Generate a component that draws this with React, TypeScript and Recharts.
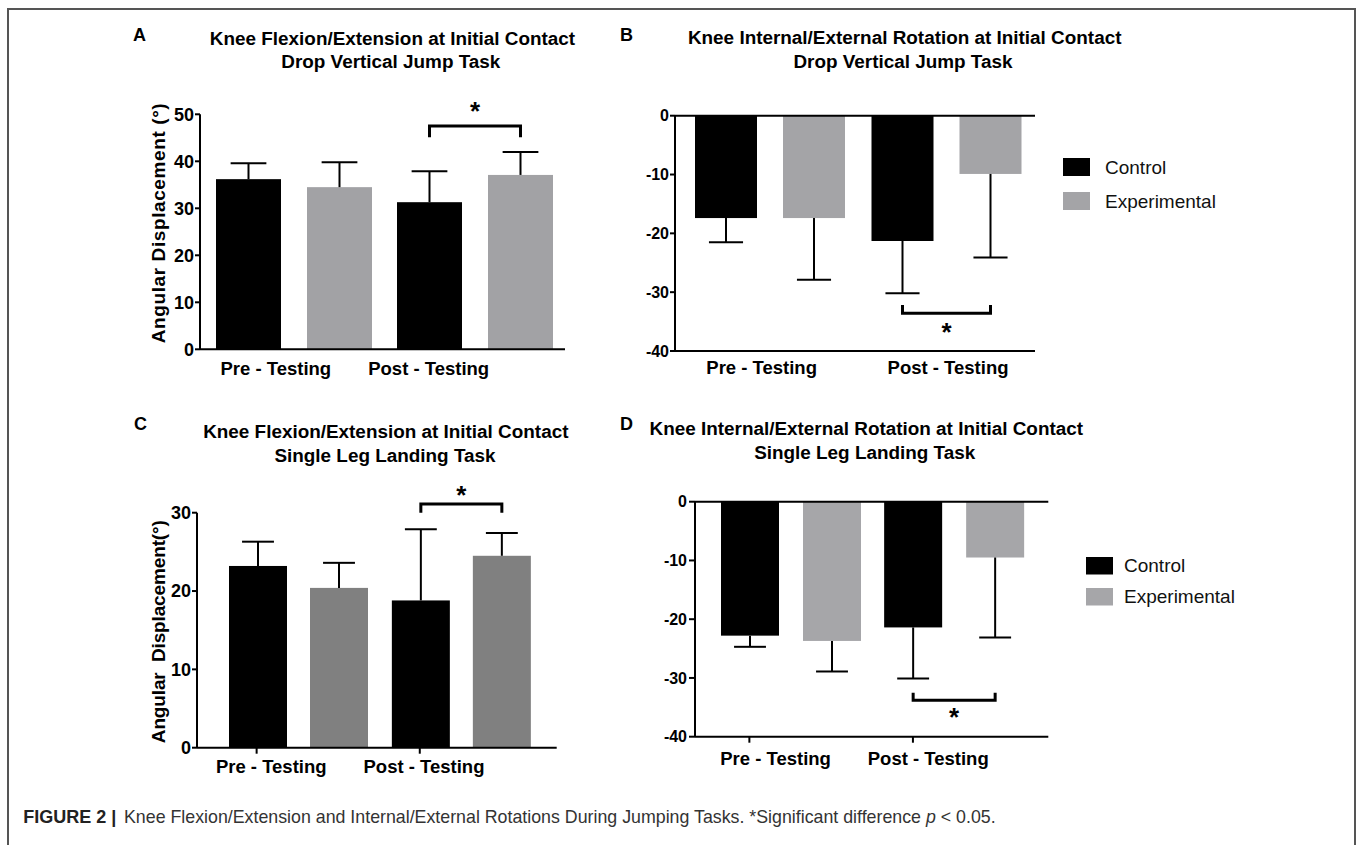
import React from 'react';
import { BarChart, Bar, XAxis, YAxis, ReferenceLine, Legend } from 'recharts';

const FONT = '"Liberation Sans", Arial, Helvetica, sans-serif';

const groups = ['Pre - Testing', 'Post - Testing'];

// A - flexion/extension, drop vertical jump
const flexDvjControl = [36.2, 31.3];
const flexDvjControlSd = [3.4, 6.6];
const flexDvjExp = [34.5, 37.1];
const flexDvjExpSd = [5.3, 4.9];

// B - internal/external rotation, drop vertical jump
const rotDvjControl = [-17.4, -21.3];
const rotDvjControlSd = [4.1, 8.9];
const rotDvjExp = [-17.4, -9.9];
const rotDvjExpSd = [10.5, 14.2];

// C - flexion/extension, single leg landing
const flexSllControl = [23.2, 18.8];
const flexSllControlSd = [3.1, 9.1];
const flexSllExp = [20.4, 24.5];
const flexSllExpSd = [3.2, 2.9];

// D - internal/external rotation, single leg landing
const rotSllControl = [-22.8, -21.4];
const rotSllControlSd = [1.9, 8.7];
const rotSllExp = [-23.7, -9.5];
const rotSllExpSd = [5.2, 13.6];

const flexDvjTicks = [0, 10, 20, 30, 40, 50];
const flexSllTicks = [0, 10, 20, 30];
const rotTicks = [0, -10, -20, -30, -40];

// significance bracket: [bar level, leg end, star] in axis units
const sigFlexDvj = [47.5, 45.1, 52.0];
const sigRotDvj = [-33.6, -32.2, -35.7];
const sigFlexSll = [31.1, 30.0, 33.0];
const sigRotSll = [-33.8, -32.5, -35.6];

const rows = (c: number[], cs: number[], e: number[], es: number[]) =>
  groups.map((g, i) => ({
    group: g,
    control: c[i],
    controlSd: cs[i],
    experimental: e[i],
    experimentalSd: es[i],
  }));

const dataA = rows(flexDvjControl, flexDvjControlSd, flexDvjExp, flexDvjExpSd);
const dataB = rows(rotDvjControl, rotDvjControlSd, rotDvjExp, rotDvjExpSd);
const dataC = rows(flexSllControl, flexSllControlSd, flexSllExp, flexSllExpSd);
const dataD = rows(rotSllControl, rotSllControlSd, rotSllExp, rotSllExpSd);

// bar + one-sided error whisker (+ significance bracket on the post control bar)
function barShape(key: string, sig: number[] | null, gap: number) {
  return (p: any) => {
    const { x, y, width, height, fill, payload } = p;
    const v = payload[key];
    const sd = payload[key + 'Sd'];
    const top = Math.min(y, y + height);
    const bot = Math.max(y, y + height);
    const ppu = (bot - top) / Math.abs(v);
    const zeroY = v >= 0 ? bot : top;
    const px = (u: number) => zeroY - u * ppu;
    const sign = v >= 0 ? 1 : -1;
    const cx = x + width / 2;
    const endY = px(v);
    const errY = px(v + sign * sd);
    const cap = width * 0.55;
    let bracket = null;
    if (sig && payload.group === groups[1]) {
      const x2 = cx + width + gap;
      const yb = px(sig[0]);
      const yl = px(sig[1]);
      bracket = (
        <g>
          <path d={`M${cx} ${yl} L${cx} ${yb} L${x2} ${yb} L${x2} ${yl}`} fill="none" stroke="#000" strokeWidth={3} />
          <text x={(cx + x2) / 2} y={px(sig[2])} dy="0.58em" textAnchor="middle" fontSize={26} fontWeight="bold" fontFamily={FONT} fill="#000">*</text>
        </g>
      );
    }
    return (
      <g>
        <rect x={x} y={top} width={width} height={bot - top} fill={fill} />
        <line x1={cx} x2={cx} y1={endY} y2={errY} stroke="#000" strokeWidth={2} />
        <line x1={cx - cap / 2} x2={cx + cap / 2} y1={errY} y2={errY} stroke="#000" strokeWidth={2} />
        {bracket}
      </g>
    );
  };
}

function groupTick(labelDx: number[], dy: number, markDx: number[] | null) {
  return (p: any) => {
    const { x, y, payload, index } = p;
    return (
      <g>
        {markDx && (
          <line x1={x + markDx[index]} x2={x + markDx[index]} y1={y} y2={y + 6} stroke="#000" strokeWidth={2} />
        )}
        <text x={x + labelDx[index]} y={y + dy} textAnchor="middle" fontSize={18.5} fontWeight="bold" fontFamily={FONT} fill="#000">
          {payload.value}
        </text>
      </g>
    );
  };
}

function legendContent(sw: number, sh: number, gap: number, pitch: number) {
  return (props: any) => (
    <svg width={170} height={pitch * 2 + 4} style={{ display: 'block', overflow: 'visible' }}>
      {(props.payload || []).map((item: any, i: number) => (
        <g key={i}>
          <rect x={0} y={i * pitch} width={sw} height={sh} fill={item.color} />
          <text x={sw + gap} y={i * pitch + sh / 2} dominantBaseline="central" fontSize={19} fontFamily={FONT} fill="#111">
            {item.value}
          </text>
        </g>
      ))}
    </svg>
  );
}

const axisStyle = { stroke: '#000', strokeWidth: 2 };

type PanelProps = {
  left: number;
  top: number;
  width: number;
  data: any[];
  domain: [number, number];
  ticks: number[];
  yWidth: number;
  margin: { top: number; right: number; bottom: number; left: number };
  xHeight: number;
  padding: { left: number; right: number };
  catGap: number;
  barGap: number;
  gray: string;
  sig: number[];
  tickFont: number;
  tickSize: number;
  tickMargin: number;
  labelDx: number[];
  labelDy: number;
  markDx: number[] | null;
  zeroLine?: boolean;
  legend?: { left: number; top: number; sw: number; sh: number; gap: number; pitch: number };
};

function Panel(pp: PanelProps) {
  return (
    <div style={{ position: 'absolute', left: pp.left, top: pp.top }}>
      <BarChart
        width={pp.width}
        height={300}
        data={pp.data}
        margin={pp.margin}
        barCategoryGap={pp.catGap}
        barGap={pp.barGap}
      >
        <XAxis
          dataKey="group"
          height={pp.xHeight}
          padding={pp.padding}
          axisLine={axisStyle}
          tickLine={false}
          tickSize={0}
          tickMargin={0}
          interval={0}
          tick={groupTick(pp.labelDx, pp.labelDy, pp.markDx)}
        />
        <YAxis
          width={pp.yWidth}
          domain={pp.domain}
          ticks={pp.ticks}
          axisLine={axisStyle}
          tickLine={axisStyle}
          tickSize={pp.tickSize}
          tickMargin={pp.tickMargin}
          tick={{ fill: '#000', fontSize: pp.tickFont, fontWeight: 'bold', fontFamily: FONT }}
        />
        {pp.zeroLine && <ReferenceLine y={0} stroke="#000" strokeWidth={2} />}
        <Bar
          dataKey="control"
          name="Control"
          fill="#000000"
          isAnimationActive={false}
          shape={barShape('control', pp.sig, pp.barGap)}
        />
        <Bar
          dataKey="experimental"
          name="Experimental"
          fill={pp.gray}
          isAnimationActive={false}
          shape={barShape('experimental', null, pp.barGap)}
        />
        {pp.legend && (
          <Legend
            layout="horizontal"
            align="center"
            verticalAlign="middle"
            wrapperStyle={{ left: pp.legend.left, top: pp.legend.top, width: 170 }}
            content={legendContent(pp.legend.sw, pp.legend.sh, pp.legend.gap, pp.legend.pitch)}
          />
        )}
      </BarChart>
    </div>
  );
}

export default function App() {
  return (
    <div
      style={{
        position: 'absolute',
        left: 0,
        top: 0,
        width: 1358,
        height: 845,
        background: '#fff',
        overflow: 'hidden',
        fontFamily: FONT,
      }}
    >
      <Panel
        left={100}
        top={90}
        width={480}
        data={dataA}
        domain={[0, 50]}
        ticks={flexDvjTicks}
        yWidth={100}
        margin={{ top: 24.3, right: 15, bottom: 0, left: 0 }}
        xHeight={40.7}
        padding={{ left: 3, right: 0 }}
        catGap={13}
        barGap={26}
        gray="#a2a2a5"
        sig={sigFlexDvj}
        tickFont={18}
        tickSize={5}
        tickMargin={1}
        labelDx={[-17.7, -45.8]}
        labelDy={25.7}
        markDx={null}
      />
      <Panel
        left={600}
        top={90}
        width={680}
        data={dataB}
        domain={[-40, 0]}
        ticks={rotTicks}
        yWidth={75}
        margin={{ top: 25.7, right: 245, bottom: 0, left: 0 }}
        xHeight={39}
        padding={{ left: 7, right: 0 }}
        catGap={13}
        barGap={26}
        gray="#a4a4a7"
        sig={sigRotDvj}
        tickFont={16}
        tickSize={5}
        tickMargin={1}
        labelDx={[-8.6, 1.3]}
        labelDy={23}
        markDx={null}
        zeroLine
        legend={{ left: 463, top: 68, sw: 27, sh: 18, gap: 15, pitch: 34 }}
      />
      <Panel
        left={100}
        top={480}
        width={480}
        data={dataC}
        domain={[0, 30]}
        ticks={flexSllTicks}
        yWidth={97}
        margin={{ top: 32.7, right: 23.3, bottom: 0, left: 0 }}
        xHeight={32.3}
        padding={{ left: 20, right: 14 }}
        catGap={12}
        barGap={23}
        gray="#808080"
        sig={sigFlexSll}
        tickFont={18}
        tickSize={5}
        tickMargin={1}
        labelDx={[-27.2, -37.3]}
        labelDy={25}
        markDx={[-41.8, -41.5]}
      />
      <Panel
        left={600}
        top={480}
        width={680}
        data={dataD}
        domain={[-40, 0]}
        ticks={rotTicks}
        yWidth={95}
        margin={{ top: 21.7, right: 231.7, bottom: 0, left: 0 }}
        xHeight={43.3}
        padding={{ left: 14, right: 13 }}
        catGap={12}
        barGap={24}
        gray="#a6a6a9"
        sig={sigRotSll}
        tickFont={16}
        tickSize={6}
        tickMargin={2}
        labelDx={[-15, -25.5]}
        labelDy={28.3}
        markDx={[-41.2, -40.8]}
        zeroLine
        legend={{ left: 486, top: 76.7, sw: 27, sh: 17.5, gap: 11, pitch: 31 }}
      />

      <svg
        width={1358}
        height={845}
        style={{ position: 'absolute', left: 0, top: 0, pointerEvents: 'none' }}
        fontFamily={FONT}
      >
        <path d="M8 845 V9 H1355 V845" fill="none" stroke="#555" strokeWidth={2} />

        <g fontWeight="bold" fill="#000">
          <text x={133} y={41} fontSize={18}>A</text>
          <text x={620} y={40.7} fontSize={18}>B</text>
          <text x={134} y={430} fontSize={18}>C</text>
          <text x={620} y={430} fontSize={18}>D</text>

          <g fontSize={18.9} textAnchor="middle">
            <text x={392.5} y={45}>Knee Flexion/Extension at Initial Contact</text>
            <text x={390.8} y={68.3}>Drop Vertical Jump Task</text>
            <text x={904.7} y={44}>Knee Internal/External Rotation at Initial Contact</text>
            <text x={903} y={68.3}>Drop Vertical Jump Task</text>
            <text x={385.8} y={438.3}>Knee Flexion/Extension at Initial Contact</text>
            <text x={385} y={462.3}>Single Leg Landing Task</text>
            <text x={866.3} y={435}>Knee Internal/External Rotation at Initial Contact</text>
            <text x={864.7} y={459.3}>Single Leg Landing Task</text>
          </g>

          <text
            x={165}
            y={223.3}
            fontSize={19}
            textAnchor="middle"
            textLength={240}
            transform="rotate(-90 165 223.3)"
          >
            Angular Displacement (°)
          </text>
          <text
            x={165}
            y={631.7}
            fontSize={19}
            textAnchor="middle"
            textLength={223}
            transform="rotate(-90 165 631.7)"
          >
            {'Angular\u00a0 Displacement(°)'}
          </text>
        </g>

        <text x={23.3} y={823} fontSize={17.8} fill="#333">
          <tspan fontWeight="bold" fill="#222" fontSize={18}>FIGURE 2 |</tspan>
          <tspan x={124}>Knee Flexion/Extension and Internal/External Rotations During Jumping Tasks. *Significant difference </tspan>
          <tspan fontStyle="italic">p</tspan>
          <tspan>{' < 0.05.'}</tspan>
        </text>
      </svg>
    </div>
  );
}
